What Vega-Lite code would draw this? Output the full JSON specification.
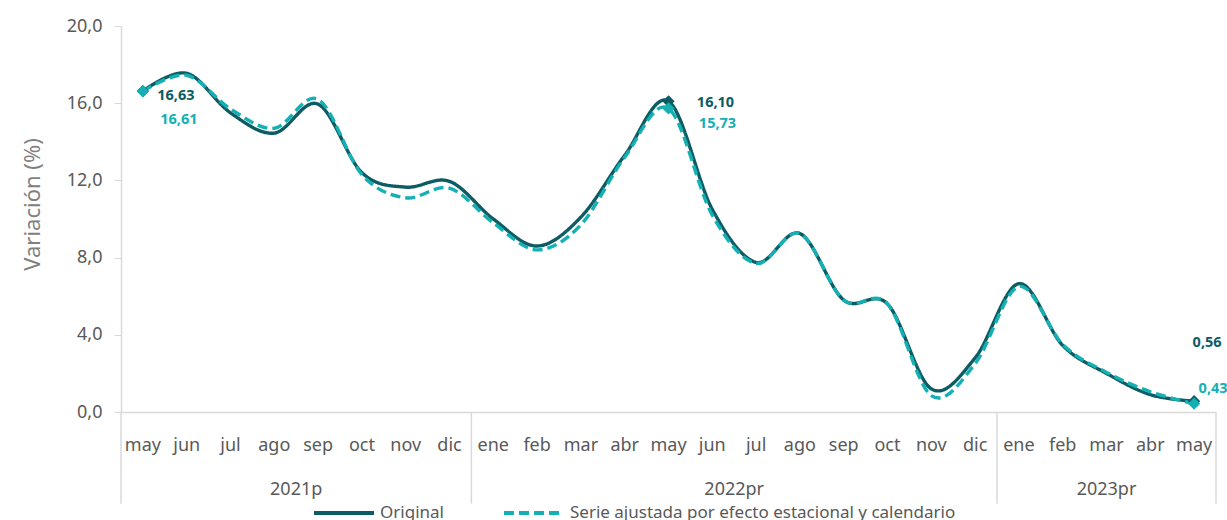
{
  "$schema": "https://vega.github.io/schema/vega-lite/v6.json",
  "width": 1095,
  "height": 386,
  "autosize": {"type": "none"},
  "padding": {"left": 121, "top": 26, "right": 11, "bottom": 108},
  "background": "white",
  "config": {
    "font": "Noto Sans",
    "view": {"stroke": null},
    "locale": {"number": {"decimal": ",", "thousands": ".", "grouping": [3], "currency": ["", " €"]}}
  },
  "datasets": {
    "serie": [
      {"i": 0, "mes": "may", "serie": "Original", "v": 16.63},
      {"i": 1, "mes": "jun", "serie": "Original", "v": 17.55},
      {"i": 2, "mes": "jul", "serie": "Original", "v": 15.5},
      {"i": 3, "mes": "ago", "serie": "Original", "v": 14.45},
      {"i": 4, "mes": "sep", "serie": "Original", "v": 15.95},
      {"i": 5, "mes": "oct", "serie": "Original", "v": 12.4},
      {"i": 6, "mes": "nov", "serie": "Original", "v": 11.65},
      {"i": 7, "mes": "dic", "serie": "Original", "v": 11.95},
      {"i": 8, "mes": "ene", "serie": "Original", "v": 10.0},
      {"i": 9, "mes": "feb", "serie": "Original", "v": 8.6},
      {"i": 10, "mes": "mar", "serie": "Original", "v": 10.1},
      {"i": 11, "mes": "abr", "serie": "Original", "v": 13.3},
      {"i": 12, "mes": "may", "serie": "Original", "v": 16.1},
      {"i": 13, "mes": "jun", "serie": "Original", "v": 10.5},
      {"i": 14, "mes": "jul", "serie": "Original", "v": 7.75},
      {"i": 15, "mes": "ago", "serie": "Original", "v": 9.25},
      {"i": 16, "mes": "sep", "serie": "Original", "v": 5.8},
      {"i": 17, "mes": "oct", "serie": "Original", "v": 5.6},
      {"i": 18, "mes": "nov", "serie": "Original", "v": 1.2},
      {"i": 19, "mes": "dic", "serie": "Original", "v": 2.8},
      {"i": 20, "mes": "ene", "serie": "Original", "v": 6.65},
      {"i": 21, "mes": "feb", "serie": "Original", "v": 3.45},
      {"i": 22, "mes": "mar", "serie": "Original", "v": 2.0},
      {"i": 23, "mes": "abr", "serie": "Original", "v": 0.9},
      {"i": 24, "mes": "may", "serie": "Original", "v": 0.56},
      {"i": 0, "mes": "may", "serie": "Serie ajustada por efecto estacional y calendario", "v": 16.61},
      {"i": 1, "mes": "jun", "serie": "Serie ajustada por efecto estacional y calendario", "v": 17.45},
      {"i": 2, "mes": "jul", "serie": "Serie ajustada por efecto estacional y calendario", "v": 15.7},
      {"i": 3, "mes": "ago", "serie": "Serie ajustada por efecto estacional y calendario", "v": 14.7},
      {"i": 4, "mes": "sep", "serie": "Serie ajustada por efecto estacional y calendario", "v": 16.2},
      {"i": 5, "mes": "oct", "serie": "Serie ajustada por efecto estacional y calendario", "v": 12.3},
      {"i": 6, "mes": "nov", "serie": "Serie ajustada por efecto estacional y calendario", "v": 11.1},
      {"i": 7, "mes": "dic", "serie": "Serie ajustada por efecto estacional y calendario", "v": 11.6},
      {"i": 8, "mes": "ene", "serie": "Serie ajustada por efecto estacional y calendario", "v": 9.8},
      {"i": 9, "mes": "feb", "serie": "Serie ajustada por efecto estacional y calendario", "v": 8.4},
      {"i": 10, "mes": "mar", "serie": "Serie ajustada por efecto estacional y calendario", "v": 9.7},
      {"i": 11, "mes": "abr", "serie": "Serie ajustada por efecto estacional y calendario", "v": 13.2},
      {"i": 12, "mes": "may", "serie": "Serie ajustada por efecto estacional y calendario", "v": 15.73},
      {"i": 13, "mes": "jun", "serie": "Serie ajustada por efecto estacional y calendario", "v": 10.2},
      {"i": 14, "mes": "jul", "serie": "Serie ajustada por efecto estacional y calendario", "v": 7.7},
      {"i": 15, "mes": "ago", "serie": "Serie ajustada por efecto estacional y calendario", "v": 9.25},
      {"i": 16, "mes": "sep", "serie": "Serie ajustada por efecto estacional y calendario", "v": 5.8},
      {"i": 17, "mes": "oct", "serie": "Serie ajustada por efecto estacional y calendario", "v": 5.6},
      {"i": 18, "mes": "nov", "serie": "Serie ajustada por efecto estacional y calendario", "v": 0.85},
      {"i": 19, "mes": "dic", "serie": "Serie ajustada por efecto estacional y calendario", "v": 2.5},
      {"i": 20, "mes": "ene", "serie": "Serie ajustada por efecto estacional y calendario", "v": 6.5},
      {"i": 21, "mes": "feb", "serie": "Serie ajustada por efecto estacional y calendario", "v": 3.5},
      {"i": 22, "mes": "mar", "serie": "Serie ajustada por efecto estacional y calendario", "v": 2.05},
      {"i": 23, "mes": "abr", "serie": "Serie ajustada por efecto estacional y calendario", "v": 1.05},
      {"i": 24, "mes": "may", "serie": "Serie ajustada por efecto estacional y calendario", "v": 0.43}
    ],
    "anios": [
      {"anio": "2021p", "c": 3.5},
      {"anio": "2022pr", "c": 13.5},
      {"anio": "2023pr", "c": 22}
    ],
    "cortes": [
      {"b": -0.5},
      {"b": 7.5},
      {"b": 19.5},
      {"b": 24.5}
    ]
  },
  "layer": [
    {
      "data": {"name": "cortes"},
      "mark": {"type": "rule", "color": "#D9D9D9", "strokeWidth": 1.5},
      "encoding": {
        "x": {"field": "b", "type": "quantitative", "scale": {"domain": [-0.5, 24.5], "nice": false, "zero": false},
              "axis": {"labels": false, "ticks": false, "grid": false, "domainColor": "#D9D9D9", "domainWidth": 1.5, "title": null}},
        "y": {"datum": 0, "type": "quantitative"},
        "y2": {"datum": -4.75}
      }
    },
    {
      "data": {"name": "serie"},
      "transform": [{"filter": "datum.serie === 'Original'"}],
      "mark": {"type": "text", "fontSize": 18, "color": "#595959", "baseline": "middle", "align": "center"},
      "encoding": {
        "x": {"field": "i", "type": "quantitative"},
        "y": {"datum": -1.75, "type": "quantitative"},
        "text": {"field": "mes"}
      }
    },
    {
      "data": {"name": "anios"},
      "mark": {"type": "text", "fontSize": 18, "color": "#595959", "baseline": "middle", "align": "center"},
      "encoding": {
        "x": {"field": "c", "type": "quantitative"},
        "y": {"datum": -4.05, "type": "quantitative"},
        "text": {"field": "anio"}
      }
    },
    {
      "data": {"name": "serie"},
      "mark": {"type": "line", "interpolate": "cardinal", "strokeWidth": 3.4},
      "encoding": {
        "x": {"field": "i", "type": "quantitative"},
        "y": {"field": "v", "type": "quantitative",
              "scale": {"domain": [0, 20], "nice": false},
              "axis": {"values": [0, 4, 8, 12, 16, 20], "format": ".1f", "grid": false,
                       "title": "Variación (%)", "titleFontSize": 22, "titleFontWeight": "normal", "titleColor": "#808080", "titlePadding": 22, "titleY": 178,
                       "labelFontSize": 18, "labelColor": "#595959", "labelPadding": 12,
                       "tickSize": 7, "tickColor": "#D9D9D9", "domainColor": "#D9D9D9", "domainWidth": 1.5}},
        "color": {"field": "serie", "type": "nominal",
                  "scale": {"domain": ["Original", "Serie ajustada por efecto estacional y calendario"], "range": ["#0D5C63", "#14B0B3"]},
                  "legend": {"title": null, "orient": "none", "legendX": 191, "legendY": 455, "direction": "horizontal",
                             "symbolType": "stroke", "symbolSize": 3600, "symbolStrokeWidth": 4,
                             "labelFontSize": 17, "labelColor": "#595959", "labelOffset": 4, "columnPadding": 52, "labelLimit": 500}},
        "strokeDash": {"field": "serie", "type": "nominal",
                       "scale": {"domain": ["Original", "Serie ajustada por efecto estacional y calendario"], "range": [[1, 0], [10, 5]]},
                       "legend": {"title": null, "orient": "none", "legendX": 191, "legendY": 455, "direction": "horizontal",
                             "symbolType": "stroke", "symbolSize": 3600, "symbolStrokeWidth": 4,
                             "labelFontSize": 17, "labelColor": "#595959", "labelOffset": 4, "columnPadding": 52, "labelLimit": 500}},
        "order": {"field": "i", "type": "quantitative"}
      }
    },
    {
      "data": {"name": "serie"},
      "transform": [{"filter": "datum.i === 0 || datum.i === 12 || datum.i === 24"}],
      "mark": {"type": "point", "shape": "diamond", "filled": true, "size": 150, "opacity": 1},
      "encoding": {
        "x": {"field": "i", "type": "quantitative"},
        "y": {"field": "v", "type": "quantitative"},
        "color": {"condition": {"test": "datum.serie === 'Original'", "value": "#0D5C63"}, "value": "#14B0B3"}
      }
    },
    {
      "data": {"name": "serie"},
      "transform": [{"filter": "datum.i === 0 && datum.serie === 'Original'"}],
      "mark": {"type": "text", "fontSize": 14.5, "fontWeight": "bold", "color": "#0D5C63", "align": "center", "baseline": "middle", "dx": 33, "dy": 5},
      "encoding": {"x": {"field": "i", "type": "quantitative"}, "y": {"field": "v", "type": "quantitative"}, "text": {"field": "v", "format": ".2f"}}
    },
    {
      "data": {"name": "serie"},
      "transform": [{"filter": "datum.i === 0 && datum.serie !== 'Original'"}],
      "mark": {"type": "text", "fontSize": 14.5, "fontWeight": "bold", "color": "#14B0B3", "align": "center", "baseline": "middle", "dx": 36, "dy": 29},
      "encoding": {"x": {"field": "i", "type": "quantitative"}, "y": {"field": "v", "type": "quantitative"}, "text": {"field": "v", "format": ".2f"}}
    },
    {
      "data": {"name": "serie"},
      "transform": [{"filter": "datum.i === 12 && datum.serie === 'Original'"}],
      "mark": {"type": "text", "fontSize": 14.5, "fontWeight": "bold", "color": "#0D5C63", "align": "center", "baseline": "middle", "dx": 47, "dy": 2},
      "encoding": {"x": {"field": "i", "type": "quantitative"}, "y": {"field": "v", "type": "quantitative"}, "text": {"field": "v", "format": ".2f"}}
    },
    {
      "data": {"name": "serie"},
      "transform": [{"filter": "datum.i === 12 && datum.serie !== 'Original'"}],
      "mark": {"type": "text", "fontSize": 14.5, "fontWeight": "bold", "color": "#14B0B3", "align": "center", "baseline": "middle", "dx": 49, "dy": 16},
      "encoding": {"x": {"field": "i", "type": "quantitative"}, "y": {"field": "v", "type": "quantitative"}, "text": {"field": "v", "format": ".2f"}}
    },
    {
      "data": {"name": "serie"},
      "transform": [{"filter": "datum.i === 24 && datum.serie === 'Original'"}],
      "mark": {"type": "text", "fontSize": 14.5, "fontWeight": "bold", "color": "#0D5C63", "align": "center", "baseline": "middle", "dx": 13, "dy": -58},
      "encoding": {"x": {"field": "i", "type": "quantitative"}, "y": {"field": "v", "type": "quantitative"}, "text": {"field": "v", "format": ".2f"}}
    },
    {
      "data": {"name": "serie"},
      "transform": [{"filter": "datum.i === 24 && datum.serie !== 'Original'"}],
      "mark": {"type": "text", "fontSize": 14.5, "fontWeight": "bold", "color": "#14B0B3", "align": "center", "baseline": "middle", "dx": 19, "dy": -15},
      "encoding": {"x": {"field": "i", "type": "quantitative"}, "y": {"field": "v", "type": "quantitative"}, "text": {"field": "v", "format": ".2f"}}
    }
  ]
}
